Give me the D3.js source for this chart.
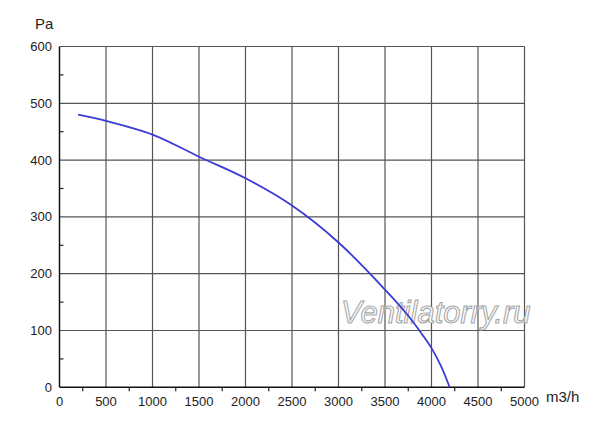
<!DOCTYPE html>
<html>
<head>
<meta charset="utf-8">
<script src="https://cdn.jsdelivr.net/npm/d3@7"></script>
<style>
  html, body { margin: 0; padding: 0; background: #ffffff; }
  svg { display: block; }
  text { font-family: "Liberation Sans", Arial, sans-serif; }
</style>
</head>
<body>
<svg id="chart" width="600" height="426"></svg>
<script>
// ---- data ----
const flow = [200, 500, 1000, 1500, 2000, 2500, 3000, 3500, 3750, 3900, 4000, 4100, 4195];
const pressure = [480, 469, 445, 406, 368, 320, 255, 172, 126, 93, 69, 38, 0];
const xTicks = [0, 500, 1000, 1500, 2000, 2500, 3000, 3500, 4000, 4500, 5000];
const yTicks = [0, 100, 200, 300, 400, 500, 600];
const xMinor = [250, 750, 1250, 1750, 2250, 2750, 3250, 3750, 4250, 4750];
const yMinor = [50, 150, 250, 350, 450, 550];
const xUnit = "m3/h";
const yUnit = "Pa";
const watermark = "Ventilatorry.ru";

// ---- layout ----
const svg = d3.select("#chart");
const L = 59.5, R = 524.5, T = 46.5, B = 387.3;
const x = d3.scaleLinear().domain([0, 5000]).range([L, R]);
const y = d3.scaleLinear().domain([0, 600]).range([B, T]);

// grid
const grid = svg.append("g");
grid.selectAll("line.v").data(xTicks.slice(1)).join("line")
  .attr("x1", d => x(d)).attr("x2", d => x(d))
  .attr("y1", T).attr("y2", B)
  .attr("stroke", "#555").attr("stroke-width", 1.2);
grid.selectAll("line.h").data(yTicks.slice(1)).join("line")
  .attr("x1", L).attr("x2", R)
  .attr("y1", d => y(d)).attr("y2", d => y(d))
  .attr("stroke", "#555").attr("stroke-width", 1.2);

// minor ticks
svg.append("g").selectAll("line").data(yMinor).join("line")
  .attr("x1", L).attr("x2", L + 4)
  .attr("y1", d => y(d)).attr("y2", d => y(d))
  .attr("stroke", "#222").attr("stroke-width", 1.2);
svg.append("g").selectAll("line").data(xMinor).join("line")
  .attr("x1", d => x(d)).attr("x2", d => x(d))
  .attr("y1", B).attr("y2", B + 4)
  .attr("stroke", "#222").attr("stroke-width", 1.2);

// axes lines
svg.append("line").attr("x1", L).attr("x2", L).attr("y1", T).attr("y2", B)
  .attr("stroke", "#111").attr("stroke-width", 1.5);
svg.append("line").attr("x1", L).attr("x2", R).attr("y1", B).attr("y2", B)
  .attr("stroke", "#111").attr("stroke-width", 1.5);

// tick labels
svg.append("g").selectAll("text").data(xTicks).join("text")
  .attr("x", d => x(d)).attr("y", 406)
  .attr("text-anchor", "middle")
  .attr("font-size", 13).attr("fill", "#222")
  .text(d => d);
svg.append("g").selectAll("text").data(yTicks).join("text")
  .attr("x", 52).attr("y", d => y(d) + 4.5)
  .attr("text-anchor", "end")
  .attr("font-size", 13).attr("fill", "#222")
  .text(d => d);

// units
svg.append("text").attr("x", 35).attr("y", 29)
  .attr("font-size", 15).attr("fill", "#222").text(yUnit);
svg.append("text").attr("x", 546).attr("y", 402)
  .attr("font-size", 15).attr("fill", "#222").text(xUnit);

// watermark
svg.append("text").attr("x", 341).attr("y", 323)
  .attr("font-size", 31).attr("font-style", "italic")
  .attr("fill", "#ffffff").attr("stroke", "#a8a8a8").attr("stroke-width", 1.1)
  .text(watermark);

// curve
const pts = flow.map((f, i) => [f, pressure[i]]);
const line = d3.line().x(d => x(d[0])).y(d => y(d[1])).curve(d3.curveCatmullRom.alpha(0.5));
svg.append("path").datum(pts)
  .attr("d", line)
  .attr("fill", "none")
  .attr("stroke", "#3b3bd6")
  .attr("stroke-width", 1.8);
</script>
</body>
</html>
